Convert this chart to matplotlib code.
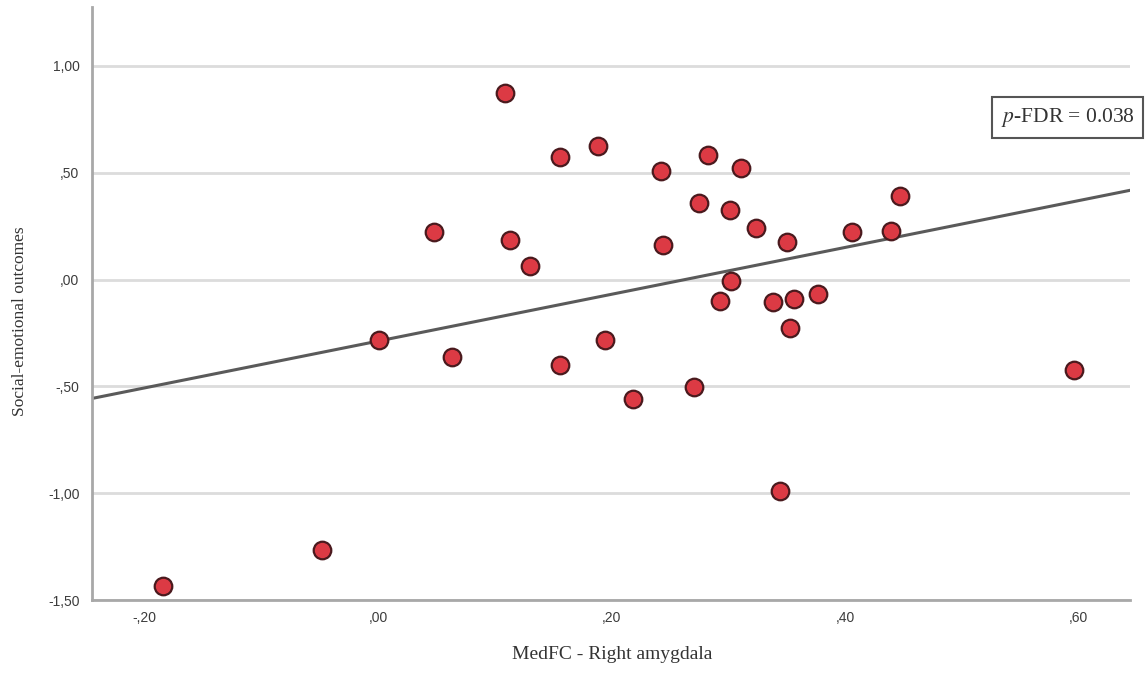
import matplotlib
matplotlib.use("Agg")
import matplotlib.pyplot as plt
import numpy as np

plt.rcParams["mathtext.fontset"] = "stix"

# Data
medfc_right_amygdala = [-0.184, -0.048, 0.001, 0.048, 0.063, 0.109, 0.113, 0.130,
                        0.156, 0.156, 0.188, 0.194, 0.218, 0.242, 0.244, 0.271,
                        0.275, 0.283, 0.293, 0.301, 0.302, 0.311, 0.324, 0.338,
                        0.344, 0.350, 0.353, 0.356, 0.377, 0.406, 0.439, 0.447,
                        0.596]
social_emotional = [-1.436, -1.267, -0.284, 0.223, -0.364, 0.874, 0.183, 0.062,
                    0.574, -0.398, 0.624, -0.281, -0.559, 0.507, 0.162, -0.504,
                    0.359, 0.584, -0.101, 0.326, -0.005, 0.521, 0.242, -0.106,
                    -0.991, 0.175, -0.226, -0.090, -0.066, 0.223, 0.226, 0.393,
                    -0.423]

fit_intercept = -0.288
fit_slope = 1.096

x_ticks = [-0.20, 0.00, 0.20, 0.40, 0.60]
x_tick_labels = ["-,20", ",00", ",20", ",40", ",60"]
y_ticks = [-1.50, -1.00, -0.50, 0.00, 0.50, 1.00]
y_tick_labels = ["-1,50", "-1,00", "-,50", ",00", ",50", "1,00"]

annotation = r"$\mathit{p}$-FDR = 0.038"

fig = plt.figure(figsize=(11.45, 6.75), dpi=100)
ax = fig.add_axes([92 / 1145, 75 / 675, (1130 - 92) / 1145, (600 - 7) / 675])

xmin, xmax = -0.245, 0.644
ymin, ymax = -1.50, 1.276
ax.set_xlim(xmin, xmax)
ax.set_ylim(ymin, ymax)

# gridlines
ax.set_yticks(y_ticks)
ax.set_yticklabels(y_tick_labels)
ax.set_xticks(x_ticks)
ax.set_xticklabels(x_tick_labels)
ax.yaxis.grid(True, color="#dcdcdc", linewidth=2.0)
ax.xaxis.grid(False)
ax.set_axisbelow(True)

for side in ["top", "right"]:
    ax.spines[side].set_visible(False)
for side in ["left", "bottom"]:
    ax.spines[side].set_color("#a8a8a8")
    ax.spines[side].set_linewidth(2.0)

ax.tick_params(axis="both", length=0, labelsize=10, colors="#3c3c3c",
               labelfontfamily="Liberation Sans")
ax.tick_params(axis="y", pad=9)
ax.tick_params(axis="x", pad=8)

# regression line
lx = np.array([xmin, xmax])
ax.plot(lx, fit_intercept + fit_slope * lx, color="#5a5a5a", linewidth=2.2, zorder=2)

# scatter
ax.scatter(medfc_right_amygdala, social_emotional, s=160, facecolor="#dc3a44",
           edgecolor="#4a1a1e", linewidth=1.6, zorder=3)

ax.set_xlabel("MedFC - Right amygdala", fontfamily="Liberation Serif",
              fontsize=14, color="#333333")
ax.xaxis.set_label_coords(0.501, -0.078)
ax.set_ylabel("Social-emotional outcomes", fontfamily="Liberation Serif",
              fontsize=12.5, color="#333333", va="center")
ax.yaxis.set_label_coords(-0.0694, 0.4705)

ax.text(1.0045, 0.8137, annotation, transform=ax.transAxes, ha="right", va="center",
        fontfamily="Liberation Serif", fontsize=15.5, color="#333333",
        bbox=dict(boxstyle="square,pad=0.4", facecolor="white",
                  edgecolor="#555555", linewidth=1.5), clip_on=False)

fig.savefig("out.png", dpi=100, facecolor="white")
